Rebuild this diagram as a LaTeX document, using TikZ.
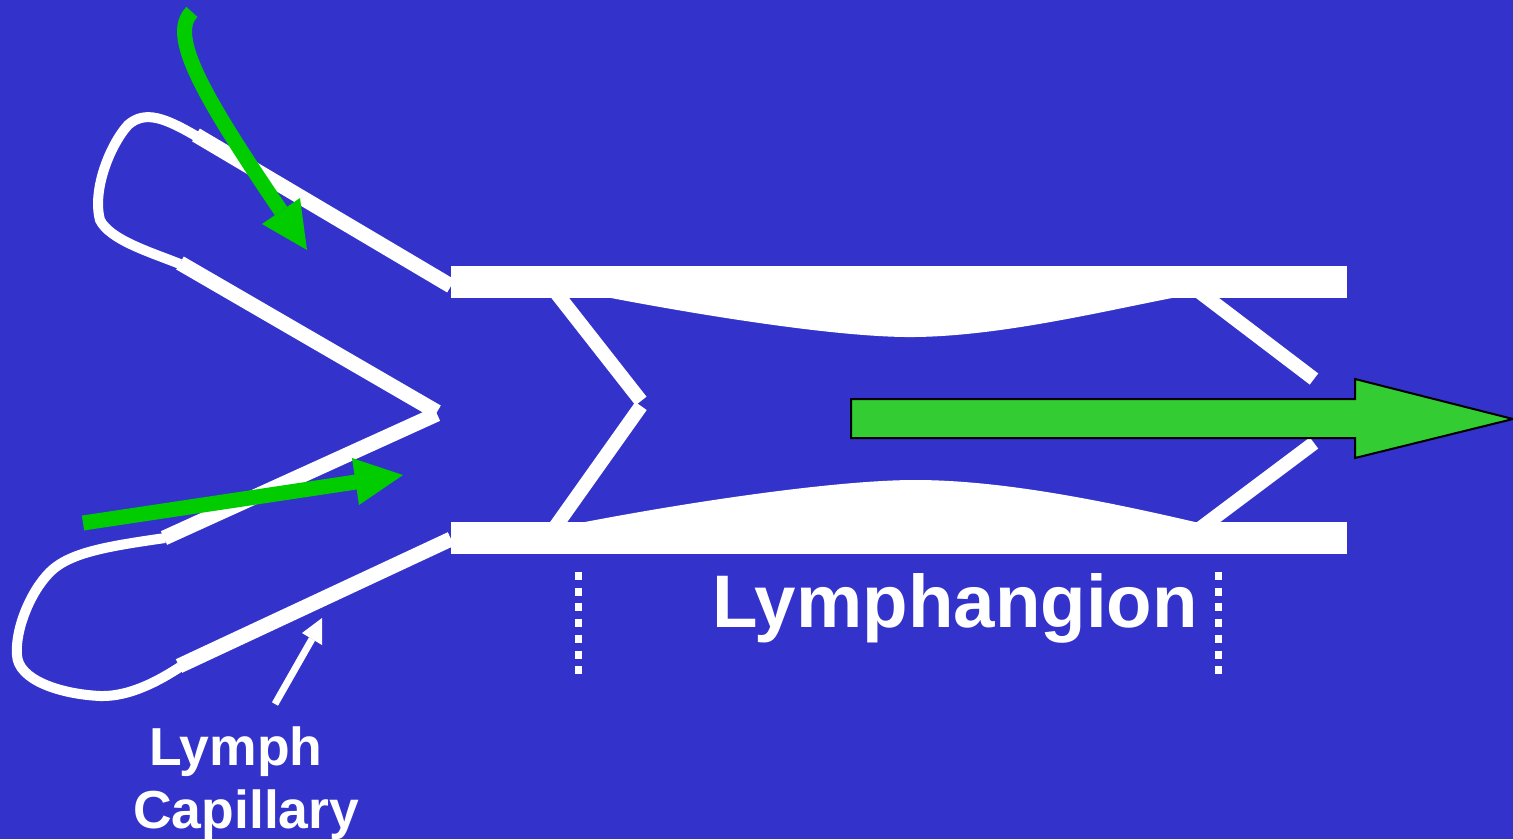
\documentclass[tikz,border=0pt]{standalone}
\usepackage{fontspec}
\setmainfont{Liberation Sans}
\usepackage{tikz}

\definecolor{slide}{HTML}{3333CC}
\definecolor{flowgreen}{HTML}{00CC00}
\definecolor{pumpgreen}{HTML}{33CC33}

\begin{document}
\begin{tikzpicture}[x=1pt,y=-1pt,
                    wall/.style={fill=white},
                    capwall/.style={draw=white,line width=15pt},
                    capend/.style={draw=white,line width=10pt},
                    valve/.style={draw=white,line width=14pt},
                    flow/.style={draw=flowgreen,line width=15pt},
                    flowhead/.style={fill=flowgreen},
                    marker/.style={draw=white,line width=7pt,dash pattern=on 8pt off 7.7pt},
                    bigtext/.style={text=white,inner sep=0pt,anchor=base west,
                                    font=\fontsize{74.5}{80}\selectfont\bfseries},
                    smalltext/.style={text=white,inner sep=0pt,anchor=base west,
                                      font=\fontsize{53.5}{60}\selectfont\bfseries}
]
\useasboundingbox (0,0) rectangle (1513,839);
\fill[slide] (0,0) rectangle (1513,839);

% lymphangion walls with the bulging muscle layer
\fill[white] (611,290) -- (611,298) .. controls (700,315) and (840,338) .. (915,337)
             .. controls (1000,336) and (1100,312) .. (1172,298) -- (1172,290) -- cycle;
\fill[white] (585,530) -- (585,522) .. controls (700,500) and (840,480) .. (915,480)
             .. controls (1000,480) and (1100,500) .. (1195,522) -- (1195,530) -- cycle;
\fill[wall] (451,266) rectangle (1347,298);
\fill[wall] (451,522) rectangle (1347,554);

% valves
\draw[valve] (554,290) -- (641,401);
\draw[valve] (641,406) -- (553,530);
\draw[valve] (1197,290) -- (1314,379);
\draw[valve] (1314,443) -- (1198,530);

% capillary loops
\coordinate (j) at (437,412);
\draw[capwall] (196,135) -- (451,286);
\draw[capwall] (180,263) -- (j);
\draw[capwall] (j) ++(0,2) -- (164,538);
\draw[capwall] (179,666) -- (451,539);
\draw[capend] (196,136) .. controls (165,118) and (145,110) .. (128,125)
              .. controls (110,145) and (92,190) .. (100,220)
              .. controls (110,240) and (150,252) .. (180,264);
\draw[capend] (165,538) .. controls (110,546) and (70,552) .. (50,572)
              .. controls (30,592) and (15,630) .. (17,655)
              .. controls (18,680) and (60,694) .. (100,696)
              .. controls (130,697) and (160,680) .. (180,667);

% segment markers
\draw[marker] (578,572) -- (578,675);
\draw[marker] (1218,572) -- (1218,675);

% inflow arrows
\coordinate (in1) at (281,211);
\coordinate (in2) at (356,482);
\draw[flow] (192,12) .. controls (168,35) and (203,96) .. (in1);
\fill[flowhead] (262,224) -- (300,198) -- (307,250) -- cycle;
\draw[flow] (83,523) -- (in2);
\fill[flowhead] (352,458) -- (403,475) -- (359,505) -- cycle;

% pointer to the capillary
\coordinate (ptr) at (312,639);
\draw[white,line width=7pt] (275,704) -- (ptr);
\fill[white] (302,633) -- (322,618) -- (322,645) -- cycle;

% pumped lymph
\filldraw[fill=pumpgreen,draw=black,line width=2pt]
  (851,399) -- (1355,399) -- (1355,379) -- (1513,419) -- (1355,458) -- (1355,438) -- (851,438) -- cycle;

\node[bigtext] (lymphangion) at (712,627) {Lymphangion};
\node[smalltext] (lymph) at (149,765) {Lymph};
\node[smalltext] (capillary) at (133,828) {Capillary};
\end{tikzpicture}
\end{document}
